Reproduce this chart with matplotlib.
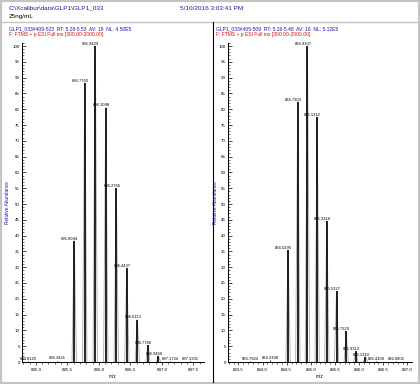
import matplotlib
matplotlib.use("Agg")
import matplotlib.pyplot as plt
from matplotlib.ticker import MultipleLocator
from matplotlib.patches import Rectangle
from matplotlib.lines import Line2D

plt.rcParams['font.family'] = ['Liberation Sans', 'DejaVu Sans']

W, H = 420, 384

# header text
file_path = "C:\\Xcalibur\\data\\GLP1\\GLP1_033"
sample_txt = "25ng/mL"
date_txt = "5/10/2016 3:03:41 PM"

# left spectrum (6+)
left_info = "GLP1_033#409-523  RT: 5.28-5.53  AV: 19  NL: 4.50E5"
left_filter = "F: FTMS + p ESI Full ms [300.00-2000.00]"
left_mz = [695.6094, 695.7760, 695.9429, 696.1098, 696.2766, 696.4437, 696.6113, 696.7786, 696.9456]
left_int = [38.3, 88.3, 100.0, 80.5, 55.0, 29.7, 13.4, 5.3, 1.8]
left_lab = ["695.6094", "695.7760", "695.9429", "696.1098", "696.2766",
            "696.4437", "696.6113", "696.7786", "696.9456"]
left_noise_mz = [694.882, 695.340, 697.135, 697.452]
left_noise_int = [0.3, 0.4, 0.3, 0.3]
left_noise_lab = ["694.8120", "695.3421", "697.1734", "697.3331"]

# right spectrum (5+)
right_info = "GLP1_033#405-509  RT: 5.26-5.48  AV: 16  NL: 5.12E5"
right_filter = "F: FTMS + p ESI Full ms [300.00-2000.00]"
right_mz = [834.5295, 834.7303, 834.9307, 835.1312, 835.3318, 835.5327, 835.7329, 835.9312, 836.1310]
right_int = [35.3, 82.3, 100.0, 77.5, 44.5, 22.4, 9.7, 3.4, 1.6]
right_lab = ["834.5295", "834.7303", "834.9307", "835.1312", "835.3318",
             "835.5327", "835.7329", "835.9312", "836.1310"]
right_noise_mz = [833.745, 834.158, 836.356, 836.770]
right_noise_int = [0.3, 0.5, 0.3, 0.3]
right_noise_lab = ["833.7924", "834.2398", "836.4108", "836.6802"]

BLUE = "#1a1aa6"
RED = "#d01010"


def fx(x):
    return x / W


def fy(y):
    return 1 - y / H


fig = plt.figure(figsize=(W / 100, H / 100), dpi=100)

# frame and separators
fig.add_artist(Rectangle((0.002, 0.003), 0.995, 0.994, transform=fig.transFigure,
                         fill=False, edgecolor="#c4c4c4", linewidth=1.6))
fig.add_artist(Line2D([fx(2), fx(418)], [fy(21.5), fy(21.5)], transform=fig.transFigure,
                      color="#c4c4c4", linewidth=1.0))
fig.add_artist(Line2D([fx(213), fx(213)], [fy(21.5), fy(382)], transform=fig.transFigure,
                      color="black", linewidth=0.8))

fig.text(fx(9), fy(8), file_path, color=BLUE, fontsize=4.6, va="center")
fig.text(fx(9), fy(16.5), sample_txt, color="black", fontsize=4.6, va="center")
fig.text(fx(180), fy(8), date_txt, color=BLUE, fontsize=4.6, va="center")


def panel(x0, x1, xlim, mz, inten, labs, nmz, nint, nlab, hw, tick_step, ylab_px):
    ax = fig.add_axes([fx(x0), 1 - 362 / H, (x1 - x0) / W, 101 * 3.16 / H])
    ax.set_xlim(*xlim)
    ax.set_ylim(0, 101)
    # profile (grey) under the centroid sticks
    for m, h in zip(mz, inten):
        ax.plot([m - hw, m, m + hw], [0, h, 0], color="#b4b4b4", linewidth=0.7, zorder=1)
    ax.vlines(mz, 0, inten, color="black", linewidth=1.2, zorder=2)
    ax.vlines(nmz, 0, nint, color="black", linewidth=0.6, zorder=2)
    for m, h, t in zip(mz, inten, labs):
        ax.annotate(t, (m, h), xytext=(-3.2, 0.9), textcoords="offset points",
                    ha="center", va="baseline", fontsize=3.0)
    for m, h, t in zip(nmz, nint, nlab):
        ax.annotate(t, (m, h), xytext=(0, 0.9), textcoords="offset points",
                    ha="center", va="baseline", fontsize=3.0)
    for s in ["top", "right"]:
        ax.spines[s].set_visible(False)
    for s in ["left", "bottom"]:
        ax.spines[s].set_linewidth(0.7)
    ax.yaxis.set_major_locator(MultipleLocator(5))
    ax.yaxis.set_minor_locator(MultipleLocator(1))
    ax.xaxis.set_major_locator(MultipleLocator(tick_step))
    ax.xaxis.set_minor_locator(MultipleLocator(tick_step / 5))
    ax.tick_params(axis="y", which="major", direction="in", length=3, width=0.5,
                   labelsize=3.2, pad=1.5)
    ax.tick_params(axis="y", which="minor", direction="in", length=1.6, width=0.4)
    ax.tick_params(axis="x", which="major", direction="out", length=2.5, width=0.5,
                   labelsize=3.2, pad=1.5)
    ax.tick_params(axis="x", which="minor", direction="out", length=1.4, width=0.4)
    ax.xaxis.set_major_formatter(plt.FuncFormatter(lambda v, p: f"{v:.1f}"))
    ax.set_xlabel("m/z", fontsize=3.4, labelpad=2)
    ax.set_ylabel("Relative Abundance", fontsize=3.4, color=BLUE)
    ax.yaxis.set_label_coords((ylab_px - x0) / (x1 - x0), 0.5)
    ax.patch.set_alpha(0)
    return ax


panel(22, 204, (694.78, 697.669), left_mz, left_int, left_lab,
      left_noise_mz, left_noise_int, left_noise_lab, 0.035, 0.5, 10)
panel(228, 412, (833.285, 837.095), right_mz, right_int, right_lab,
      right_noise_mz, right_noise_int, right_noise_lab, 0.045, 0.5, 218)

fig.text(fx(9), fy(28.5), left_info, color=BLUE, fontsize=3.6, va="center")
fig.text(fx(9), fy(34.5), left_filter, color=RED, fontsize=3.6, va="center")
fig.text(fx(216), fy(28.5), right_info, color=BLUE, fontsize=3.6, va="center")
fig.text(fx(216), fy(34.5), right_filter, color=RED, fontsize=3.6, va="center")

fig.savefig("out.png", dpi=100)
